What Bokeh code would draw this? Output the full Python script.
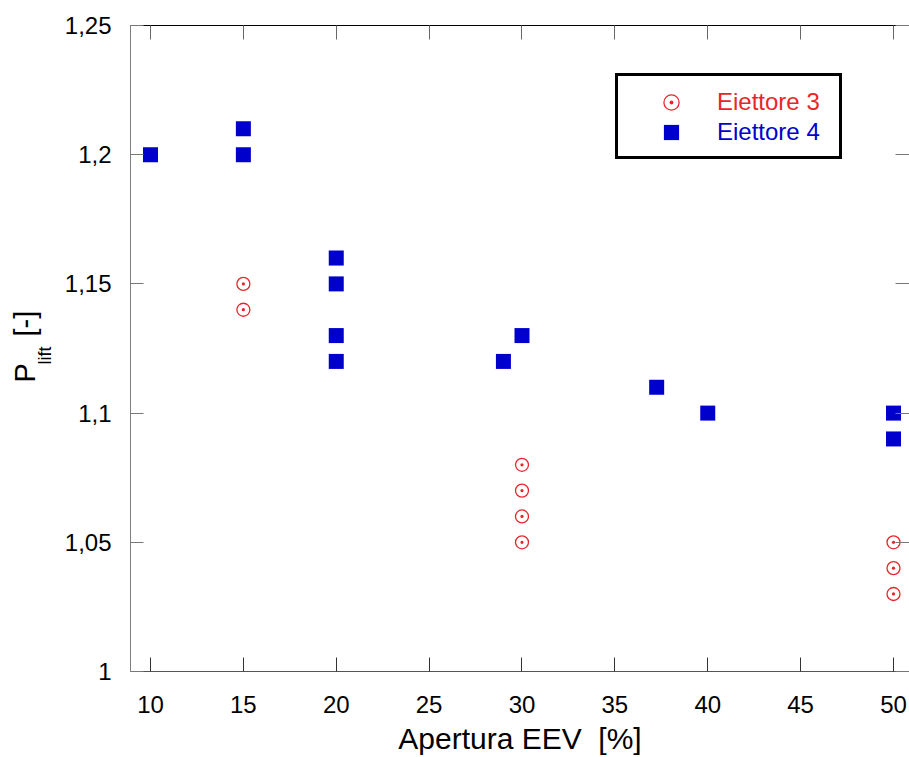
import math
from bokeh.plotting import figure
from bokeh.layouts import row
from bokeh.models import (Range1d, FixedTicker, LinearAxis, Legend, LegendItem,
                          Label, CustomJSTickFormatter)
from bokeh.embed import file_html
from bokeh.resources import INLINE

# Eiettore 3 (red open circles)
e3_apertura = [15, 15, 30, 30, 30, 30, 50, 50, 50]
e3_plift = [1.15, 1.14, 1.08, 1.07, 1.06, 1.05, 1.05, 1.04, 1.03]

# Eiettore 4 (blue squares)
e4_apertura = [10, 15, 15, 20, 20, 20, 20, 29, 30, 37.25, 40, 50, 50]
e4_plift = [1.20, 1.21, 1.20, 1.16, 1.15, 1.13, 1.12, 1.12, 1.13, 1.11, 1.10, 1.10, 1.09]

x_ticks = [10, 15, 20, 25, 30, 35, 40, 45, 50]
y_ticks = [1.0, 1.05, 1.10, 1.15, 1.20, 1.25]

FONT = "Liberation Sans"
RED = "#e8262a"
BLUE = "#0000cc"

TITLE_W = 60
TOP, BOTTOM = 25, 86

p = figure(width=909 - TITLE_W, height=757, output_backend="svg", toolbar_location=None,
           x_range=Range1d(8.9233, 50.8614), y_range=Range1d(1.0, 1.25),
           min_border_left=130 - TITLE_W, min_border_right=0, min_border_top=TOP,
           min_border_bottom=BOTTOM, x_axis_location="below", y_axis_location="left")
p.outline_line_color = None
p.xgrid.visible = False
p.ygrid.visible = False
p.background_fill_color = "white"
p.border_fill_color = "white"

comma_fmt = CustomJSTickFormatter(
    code="return tick.toFixed(2).replace(/0+$/,'').replace(/\\.$/,'').replace('.',',')")
blank_fmt = CustomJSTickFormatter(code="return ''")

xa = p.xaxis[0]
xa.ticker = FixedTicker(ticks=x_ticks)
xa.major_tick_in = 14
xa.major_tick_out = 0
xa.minor_tick_line_color = None
xa.axis_line_color = "#555555"
xa.major_tick_line_color = "#333333"
xa.major_label_text_font = FONT
xa.major_label_text_font_size = "24px"
xa.major_label_text_color = "black"
xa.major_label_standoff = 24
xa.axis_label = "Apertura EEV\u00a0 [%]"
xa.axis_label_text_font = FONT
xa.axis_label_text_font_size = "30px"
xa.axis_label_text_font_style = "normal"
xa.axis_label_text_color = "black"
xa.axis_label_text_line_height = 0.8
xa.axis_label_standoff = 6

ya = p.yaxis[0]
ya.ticker = FixedTicker(ticks=y_ticks)
ya.formatter = comma_fmt
ya.major_tick_in = 13
ya.major_tick_out = 0
ya.minor_tick_line_color = None
ya.axis_line_color = "#7f7f7f"
ya.major_tick_line_color = "#777777"
ya.major_label_text_font = FONT
ya.major_label_text_font_size = "24px"
ya.major_label_text_color = "black"
ya.major_label_standoff = 19

# mirrored ticks on top and right
top = LinearAxis(ticker=FixedTicker(ticks=x_ticks), formatter=blank_fmt,
                 major_tick_in=14, major_tick_out=0, minor_tick_line_color=None,
                 axis_line_color="black", major_tick_line_color="#666666",
                 major_label_text_font_size="0px", major_label_standoff=0)
p.add_layout(top, "above")
right = LinearAxis(ticker=FixedTicker(ticks=y_ticks), formatter=blank_fmt,
                   major_tick_in=14, major_tick_out=0, minor_tick_line_color=None,
                   axis_line_color=None, major_tick_line_color="#777777",
                   major_label_text_font_size="0px", major_label_standoff=0)
p.add_layout(right, "right")

r3 = p.scatter(e3_apertura, e3_plift, marker="circle_dot", size=13,
               fill_color=None, line_color=RED, line_width=1.3)
r4 = p.scatter(e4_apertura, e4_plift, marker="square", size=15,
               fill_color=BLUE, line_color=None)

# empty, invisible renderer used only to give the legend frame its size
frame_r = p.scatter(x=[], y=[], marker="square", size=1,
                    fill_alpha=0, line_alpha=0)

legend_common = dict(padding=0, spacing=0, glyph_width=88, glyph_height=38,
                     label_standoff=2, label_width=112, label_height=30,
                     label_text_font=FONT, label_text_font_size="24px",
                     border_line_color=None, background_fill_alpha=0, margin=0)

leg_frame = Legend(items=[LegendItem(label="\u00a0", renderers=[frame_r])],
                   location=(485, 512), padding=12, spacing=0,
                   glyph_width=88, glyph_height=56, label_standoff=2,
                   label_width=107, label_height=30,
                   label_text_font_size="24px",
                   border_line_color="black", border_line_width=3,
                   border_line_alpha=1.0,
                   background_fill_color="white", background_fill_alpha=1.0,
                   margin=0)
leg_e3 = Legend(items=[LegendItem(label="Eiettore 3", renderers=[r3])],
                location=(497, 550), label_text_color=RED, **legend_common)
leg_e4 = Legend(items=[LegendItem(label="Eiettore 4", renderers=[r4])],
                location=(497, 520), label_text_color=BLUE, **legend_common)
p.add_layout(leg_frame, "center")
p.add_layout(leg_e3, "center")
p.add_layout(leg_e4, "center")

# narrow side panel carrying the y axis title: P with subscript "lift".
# Its frame spans the same rows as the main frame; ranges are in page pixels.
t = figure(width=TITLE_W, height=757, output_backend="svg", toolbar_location=None,
           x_range=Range1d(0, TITLE_W), y_range=Range1d(757 - BOTTOM, TOP),
           x_axis_type=None, y_axis_type=None,
           min_border_left=0, min_border_right=0,
           min_border_top=TOP, min_border_bottom=BOTTOM)
t.outline_line_color = None
t.xgrid.visible = False
t.ygrid.visible = False
t.background_fill_color = "white"
t.border_fill_color = "white"

ang = math.pi / 2
t.add_layout(Label(x=24, y=382, text="P",
                   angle=ang, text_font=FONT, text_font_size="29px",
                   text_color="black", text_align="left", text_baseline="middle"))
t.add_layout(Label(x=44, y=364, text="lift",
                   angle=ang, text_font=FONT, text_font_size="18px",
                   text_color="black", text_align="left", text_baseline="middle"))
t.add_layout(Label(x=24, y=336, text="[-]",
                   angle=ang, text_font=FONT, text_font_size="29px",
                   text_color="black", text_align="left", text_baseline="middle"))

layout = row(t, p, spacing=0)
open("out.html", "w").write(file_html(layout, INLINE))
